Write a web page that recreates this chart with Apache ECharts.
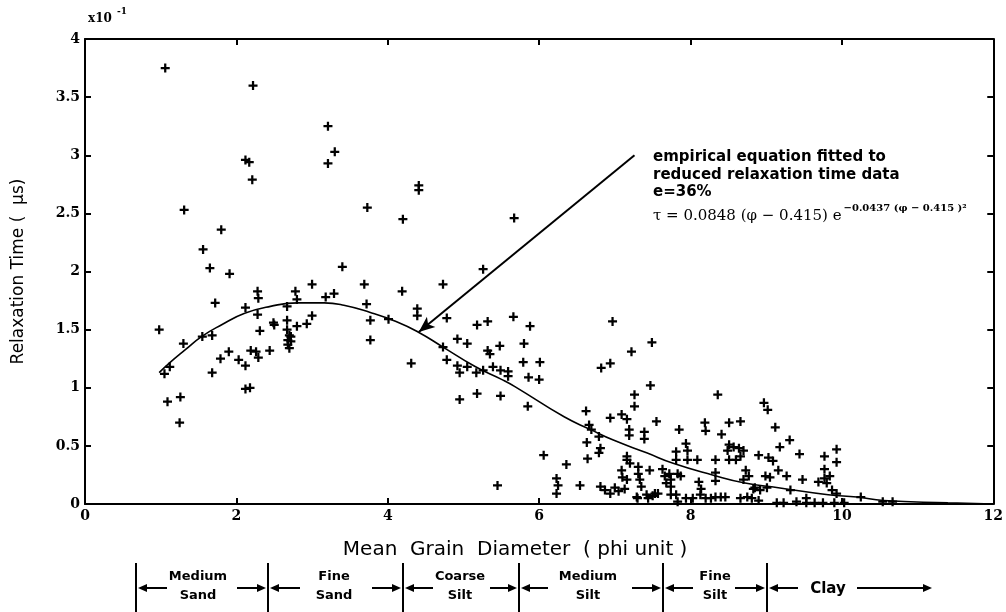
<!DOCTYPE html>
<html><head><meta charset="utf-8">
<script src="https://cdn.jsdelivr.net/npm/echarts@6/dist/echarts.min.js"></script>
<style>html,body{margin:0;padding:0;background:#fff}#c{width:1006px;height:612px}</style>
</head><body><div id="c"></div>
<script>
// ---- data ----
const grainSize = [
1.06,2.22,2.12,2.17,2.21,3.21,3.21,3.30,4.41,4.41,3.73,4.20,5.67,1.31,1.80,1.56,1.65,1.91,1.72,0.98,
1.30,1.55,1.68,1.79,1.90,1.68,2.03,2.12,2.12,2.28,2.29,2.28,2.31,2.19,2.26,2.29,2.44,2.49,2.50,2.67,
2.67,2.78,2.80,3.00,3.00,2.93,2.80,2.67,2.70,2.72,2.68,2.72,2.68,2.70,3.18,3.29,3.40,1.05,1.12,1.09,
1.26,1.25,2.12,2.18,4.31,4.78,4.92,4.95,5.05,5.17,5.26,5.39,5.49,5.59,5.59,5.79,6.01,5.86,6.00,4.95,
5.18,5.49,5.85,6.06,5.45,5.26,3.69,4.19,4.73,3.72,3.77,3.77,4.01,4.39,4.39,4.78,5.18,5.32,5.66,5.88,
4.92,5.05,5.32,5.35,5.48,5.80,4.73,6.97,7.49,7.22,6.82,6.94,6.36,6.23,6.25,6.23,6.54,6.62,6.66,6.69,
6.63,6.64,6.79,6.81,6.79,6.94,7.09,7.16,7.26,7.26,7.47,7.55,7.19,7.19,7.39,7.39,7.16,7.16,6.81,6.87,
6.94,7.00,7.05,7.09,7.10,7.16,7.13,7.31,7.31,7.33,7.35,7.46,7.29,7.42,7.53,7.20,7.30,7.44,7.50,7.57,
7.63,7.66,7.68,7.72,7.74,7.74,7.74,7.81,7.81,7.83,7.87,7.85,7.94,7.96,7.96,8.09,8.11,8.14,8.13,7.81,
7.83,7.94,8.03,8.20,8.27,8.33,8.40,8.46,8.19,8.20,8.36,8.41,8.51,8.66,8.33,8.33,8.33,8.49,8.51,8.57,
8.64,8.70,8.51,8.60,8.66,8.73,8.77,8.70,8.83,8.66,8.75,8.81,8.90,8.90,9.03,9.09,8.99,9.05,9.01,8.97,
9.02,9.12,9.31,9.18,9.16,9.27,9.44,9.48,9.32,9.14,9.23,9.40,9.53,9.64,9.75,9.77,9.77,9.93,9.93,9.69,
9.77,9.84,9.80,9.87,9.93,9.53,9.90,10.03,10.25,10.54,10.67,8.85,8.92
];
const relaxTime = [
3.75,3.60,2.96,2.94,2.79,3.25,2.93,3.03,2.74,2.70,2.55,2.45,2.46,2.53,2.36,2.19,2.03,1.98,1.73,1.50,
1.38,1.44,1.45,1.25,1.31,1.13,1.24,1.19,1.69,1.83,1.77,1.63,1.49,1.32,1.31,1.26,1.32,1.56,1.54,1.58,
1.70,1.83,1.76,1.89,1.62,1.55,1.53,1.50,1.45,1.44,1.41,1.40,1.37,1.34,1.78,1.81,2.04,1.12,1.18,0.88,
0.92,0.70,0.99,1.00,1.21,1.24,1.19,1.13,1.18,1.13,1.15,1.18,1.15,1.14,1.10,1.22,1.22,1.09,1.07,0.90,
0.95,0.93,0.84,0.42,0.16,2.02,1.89,1.83,1.89,1.72,1.58,1.41,1.59,1.68,1.62,1.60,1.54,1.57,1.61,1.53,
1.42,1.38,1.32,1.29,1.36,1.38,1.35,1.57,1.39,1.31,1.17,1.21,0.34,0.22,0.16,0.09,0.16,0.80,0.68,0.64,
0.53,0.39,0.58,0.48,0.44,0.74,0.77,0.73,0.94,0.84,1.02,0.71,0.64,0.59,0.62,0.56,0.41,0.38,0.15,0.12,
0.09,0.14,0.11,0.29,0.23,0.21,0.13,0.32,0.26,0.21,0.15,0.29,0.06,0.08,0.09,0.35,0.05,0.05,0.07,0.09,
0.30,0.24,0.18,0.26,0.21,0.15,0.08,0.45,0.38,0.26,0.24,0.64,0.52,0.46,0.38,0.38,0.19,0.13,0.08,0.08,
0.02,0.05,0.05,0.05,0.05,0.06,0.06,0.06,0.70,0.63,0.94,0.60,0.70,0.71,0.38,0.27,0.20,0.46,0.51,0.49,
0.48,0.46,0.38,0.38,0.41,0.29,0.24,0.21,0.13,0.05,0.06,0.05,0.03,0.42,0.40,0.37,0.24,0.23,0.14,0.87,
0.81,0.66,0.55,0.49,0.29,0.24,0.43,0.21,0.12,0.01,0.01,0.02,0.01,0.01,0.01,0.41,0.30,0.47,0.36,0.19,
0.22,0.24,0.18,0.12,0.09,0.05,0.01,0.01,0.06,0.02,0.02,0.14,0.12
];
const curvePhi = [0.98,1.11,1.33,1.54,1.80,2.11,2.45,2.81,3.16,3.42,3.76,4.11,4.40,4.73,5.16,5.51,5.68,6.33,6.68,6.98,7.42,7.77,8.29,8.72,9.16,9.82,10.2,10.55,11.4,12.0];
const curveTau = [1.13,1.21,1.33,1.44,1.54,1.64,1.70,1.73,1.73,1.71,1.65,1.57,1.48,1.35,1.18,1.07,1.01,0.75,0.64,0.55,0.44,0.35,0.25,0.18,0.14,0.08,0.06,0.03,0.01,0.00];
const arrowStart = [7.26, 3.00];
const arrowEnd = [4.41, 1.48];
const noteLines = ['empirical equation fitted to', 'reduced relaxation time data', 'e=36%'];
const formulaMain = 'τ = 0.0848 (φ − 0.415) e';
const formulaExp = '−0.0437 (φ − 0.415 )²';
const sizeClasses = [['Medium','Sand'],['Fine','Sand'],['Coarse','Silt'],['Medium','Silt'],['Fine','Silt']];
const lastClass = 'Clay';

// ---- layout (pixels) ----
const boundsPx = [136, 268, 403, 519, 663, 767];
const classCenters = [198, 334, 460, 588, 715];

const points = grainSize.map((x, i) => [x, relaxTime[i]]);
const curve = curvePhi.map((x, i) => [x, curveTau[i]]);

const plus = 'path://M3,0H5V3H8V5H5V8H3V5H0V3H3Z';
const tickFont = 'DejaVu Serif';

const axisCommon = {
  axisLine: { show: true, onZero: false, lineStyle: { color: '#000', width: 2 } },
  axisTick: { show: true, inside: true, length: 6, lineStyle: { color: '#000', width: 2 } },
  splitLine: { show: false },
  axisLabel: { color: '#000', fontFamily: tickFont, fontWeight: 'bold', fontSize: 14 }
};

const graphic = [];
graphic.push({ type: 'text', left: 88, top: 13, style: { text: 'x10', font: 'bold 12px "DejaVu Serif"', fill: '#000' } });
graphic.push({ type: 'text', left: 117, top: 7, style: { text: '-1', font: 'bold 9px "DejaVu Serif"', fill: '#000' } });
noteLines.forEach((t, i) => {
  graphic.push({ type: 'text', left: 653, top: 150 + i * 17.5, style: { text: t, font: 'bold 15px "DejaVu Sans"', fill: '#000' } });
});
graphic.push({
  type: 'text', left: 653, top: 203,
  style: {
    text: '{m|' + formulaMain + '}{s|' + formulaExp + '}',
    fill: '#000',
    rich: {
      m: { font: '15px "DejaVu Serif"', fill: '#000', padding: [8, 0, 0, 0] },
      s: { font: 'bold 10px "DejaVu Serif"', fill: '#000', padding: [0, 0, 9, 2] }
    }
  }
});

// size-class legend below the axis
boundsPx.forEach(x => {
  graphic.push({ type: 'line', shape: { x1: x, y1: 563, x2: x, y2: 612 }, style: { stroke: '#000', lineWidth: 2 } });
});
function arrow(x1, x2, y) {
  const dir = x2 > x1 ? 1 : -1;
  graphic.push({ type: 'line', shape: { x1: x1, y1: y, x2: x2 - dir * 6, y2: y }, style: { stroke: '#000', lineWidth: 2 } });
  graphic.push({ type: 'polygon', shape: { points: [[x2, y], [x2 - dir * 9, y - 4], [x2 - dir * 9, y + 4]] }, style: { fill: '#000' } });
}
const ay = 588;
const arrowPairs = [[167,138],[237,266],[300,270],[372,401],[433,405],[490,517],[548,521],[632,661],[693,665],[735,765],[798,769],[857,932]];
arrowPairs.forEach(p => arrow(p[0], p[1], ay));
sizeClasses.forEach((c, i) => {
  graphic.push({ type: 'text', x: classCenters[i], y: 577, style: { text: c[0], font: 'bold 13px "DejaVu Sans"', fill: '#000', align: 'center', verticalAlign: 'middle' } });
  graphic.push({ type: 'text', x: classCenters[i], y: 596, style: { text: c[1], font: 'bold 13px "DejaVu Sans"', fill: '#000', align: 'center', verticalAlign: 'middle' } });
});
graphic.push({ type: 'text', x: 828, y: 589, style: { text: lastClass, font: 'bold 15px "DejaVu Sans"', fill: '#000', align: 'center', verticalAlign: 'middle' } });

const chart = echarts.init(document.getElementById('c'), null, { renderer: 'canvas' });
chart.setOption({
  animation: false,
  backgroundColor: '#fff',
  grid: { left: 85, right: 2, top: 39, bottom: 108, containLabel: false },
  xAxis: [
    Object.assign({}, axisCommon, {
      type: 'value', min: 0, max: 12, interval: 2, position: 'bottom',
      name: 'Mean  Grain  Diameter  ( phi unit )', nameLocation: 'middle', nameGap: 36,
      nameTextStyle: { color: '#000', fontFamily: 'DejaVu Sans', fontSize: 20, padding: [0, 48, 0, 0] },
      axisLabel: Object.assign({}, axisCommon.axisLabel, { margin: 5 })
    }),
    Object.assign({}, axisCommon, {
      type: 'value', min: 0, max: 12, interval: 2, position: 'top',
      axisLabel: { show: false }
    })
  ],
  yAxis: [
    Object.assign({}, axisCommon, {
      type: 'value', min: 0, max: 4, interval: 0.5, position: 'left',
      name: 'Relaxation Time (  μs)', nameLocation: 'middle', nameGap: 58,
      nameTextStyle: { color: '#000', fontFamily: 'DejaVu Sans', fontSize: 17 },
      axisLabel: Object.assign({}, axisCommon.axisLabel, { margin: 5 })
    }),
    Object.assign({}, axisCommon, {
      type: 'value', min: 0, max: 4, interval: 0.5, position: 'right',
      axisLabel: { show: false }
    })
  ],
  series: [
    {
      type: 'scatter', xAxisIndex: 0, yAxisIndex: 0, data: points,
      symbol: plus, symbolSize: 9, itemStyle: { color: '#000', opacity: 1 }, silent: true
    },
    {
      type: 'line', xAxisIndex: 0, yAxisIndex: 0, data: curve, smooth: true,
      showSymbol: false, lineStyle: { color: '#000', width: 1.6 }, silent: true,
      markLine: {
        silent: true, symbol: ['none', 'arrow'], symbolSize: [10, 16],
        label: { show: false },
        lineStyle: { color: '#000', width: 2, type: 'solid' },
        data: [[{ coord: arrowStart }, { coord: arrowEnd }]]
      }
    }
  ],
  graphic: graphic
});
</script>
</body></html>
